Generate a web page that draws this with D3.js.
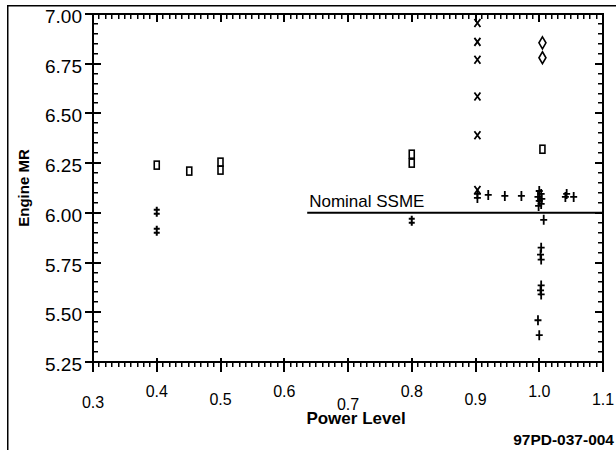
<!DOCTYPE html>
<html lang="en">
<head>
<meta charset="UTF-8">
<title>Engine MR vs Power Level</title>
<script src="https://cdn.jsdelivr.net/npm/d3@7"></script>
</head>
<body style="margin:0">
<svg id="chart" width="616" height="450" font-family="Liberation Sans, Arial, sans-serif"></svg>
<script>
// data: [power level, engine MR]
var squarePts = [[0.40,6.24],[0.451,6.21],[0.50,6.255],[0.50,6.215],[0.80,6.295],[0.80,6.25],[1.005,6.32]];
var dblCrossPts = [[0.40,6.005],[0.40,5.91],[0.80,5.96]];
var xPts = [[0.903,6.955],[0.903,6.86],[0.903,6.77],[0.903,6.585],[0.903,6.39],[0.903,6.115]];
var diamondPts = [[1.005,6.855],[1.005,6.78]];
var plusPts = [[0.903,6.095],[0.903,6.075],[0.92,6.09],[0.946,6.085],[0.972,6.085],
	[1.0,6.11],[1.003,6.095],[0.998,6.08],[1.004,6.07],[1.0,6.06],[1.003,6.045],[0.999,6.035],
	[1.043,6.095],[1.041,6.08],[1.054,6.08],
	[1.007,5.965],[1.003,5.825],[1.002,5.79],[1.003,5.765],[1.003,5.635],[1.002,5.61],[1.003,5.59],
	[0.998,5.46],[1.0,5.385]];
var nominalMR = 6.0;
var nominalFrom = 0.636;
var xTicks = [0.3,0.4,0.5,0.6,0.7,0.8,0.9,1.0,1.1];
var yTicks = [5.25,5.50,5.75,6.00,6.25,6.50,6.75,7.00];

var svg = d3.select("#chart");
var x = d3.scaleLinear().domain([0.3,1.1]).range([93,603]);
var y = d3.scaleLinear().domain([5.25,7.0]).range([362,14]);
var xl = x(0.3), xr = x(1.1), yb = y(5.25), yt = y(7);

// outer frame (left + top)
svg.append("rect").attr("x",7).attr("y",5).attr("width",1.5).attr("height",445).attr("fill","#000");
svg.append("rect").attr("x",7).attr("y",5).attr("width",609).attr("height",1.5).attr("fill","#000");

// ticks as small filled rects: minor every 0.01 / 0.05, major every 0.1 / 0.25
var xt = d3.range(30,111).map(function(i){return {v:i/100, major:i%10===0};});
var yt5 = d3.range(105,141).map(function(i){return {v:i/20, major:i%5===0};});
var tg = svg.append("g").attr("fill","#000");
tg.selectAll(".tb").data(xt).enter().append("rect")
	.attr("x",function(d){return Math.round(x(d.v))-1;}).attr("width",function(d){return d.major?2:1.5;})
	.attr("y",function(d){return yb-(d.major?4:0);}).attr("height",function(d){return d.major?14:5;});
tg.selectAll(".tt").data(xt).enter().append("rect")
	.attr("x",function(d){return Math.round(x(d.v))-1;}).attr("width",function(d){return d.major?2:1.5;})
	.attr("y",yt).attr("height",function(d){return d.major?8:5;});
tg.selectAll(".tl").data(yt5).enter().append("rect")
	.attr("y",function(d){return Math.round(y(d.v))-1;}).attr("height",function(d){return d.major?2:1.5;})
	.attr("x",function(d){return xl-(d.major?8:0);}).attr("width",function(d){return d.major?16:5;});
tg.selectAll(".tr").data(yt5).enter().append("rect")
	.attr("y",function(d){return Math.round(y(d.v))-1;}).attr("height",function(d){return d.major?2:1.5;})
	.attr("x",function(d){return xr-(d.major?8:5);}).attr("width",function(d){return d.major?8:5;});

// plot box
svg.append("rect").attr("x",xl).attr("y",yt).attr("width",xr-xl).attr("height",yb-yt)
	.attr("fill","none").attr("stroke","#000").attr("stroke-width",2);

// tick labels
var xLabelY = {"0.3":408,"0.4":397,"0.5":405,"0.6":397,"0.7":410,"0.8":397,"0.9":405,"1.0":397,"1.1":405};
svg.selectAll(".xlab").data(xTicks).enter().append("text")
	.attr("x",function(d){return x(d);})
	.attr("y",function(d){return xLabelY[d.toFixed(1)];})
	.attr("text-anchor","middle").attr("font-size",16)
	.text(function(d){return d.toFixed(1);});
svg.selectAll(".ylab").data(yTicks).enter().append("text")
	.attr("x",82).attr("y",function(d){return y(d)+9;})
	.attr("text-anchor","end").attr("font-size",19)
	.text(function(d){return d.toFixed(2);});

// axis titles
svg.append("text").attr("x",356).attr("y",424).attr("text-anchor","middle")
	.attr("font-size",17).attr("font-weight","bold").text("Power Level");
svg.append("text").attr("transform","translate(29,188) rotate(-90)").attr("text-anchor","middle")
	.attr("font-size",15).attr("font-weight","bold").text("Engine MR");
svg.append("text").attr("x",614).attr("y",445).attr("text-anchor","end")
	.attr("font-size",15.5).attr("font-weight","bold").text("97PD-037-004");

// nominal line
svg.append("line").attr("x1",x(nominalFrom)).attr("x2",xr).attr("y1",y(nominalMR)).attr("y2",y(nominalMR))
	.attr("stroke","#000").attr("stroke-width",2);
svg.append("text").attr("x",x(nominalFrom)+2).attr("y",y(nominalMR)-6)
	.attr("font-size",17).text("Nominal SSME");

// markers
var m = svg.append("g").attr("stroke","#000").attr("fill","none").attr("stroke-width",1.6);
m.selectAll(".sq").data(squarePts).enter().append("rect")
	.attr("x",function(d){return x(d[0])-2.5;}).attr("y",function(d){return y(d[1])-4;})
	.attr("width",5).attr("height",8);
m.selectAll(".dc").data(dblCrossPts).enter().append("path")
	.attr("transform",function(d){return "translate("+x(d[0])+","+y(d[1])+")";})
	.attr("d","M0,-5V5M-3,-2H3M-3,2H3").attr("stroke-width",2);
m.selectAll(".xx").data(xPts).enter().append("path")
	.attr("transform",function(d){return "translate("+x(d[0])+","+y(d[1])+")";})
	.attr("d","M-3,-4L3,4M3,-4L-3,4").attr("stroke-width",1.8);
m.selectAll(".dm").data(diamondPts).enter().append("path")
	.attr("transform",function(d){return "translate("+x(d[0])+","+y(d[1])+")";})
	.attr("d","M0,-6L3.5,0L0,6L-3.5,0Z");
m.selectAll(".pl").data(plusPts).enter().append("path")
	.attr("transform",function(d){return "translate("+x(d[0])+","+y(d[1])+")";})
	.attr("d","M0,-5V5M-3.5,0H3.5").attr("stroke-width",1.8);
</script>
</body>
</html>
